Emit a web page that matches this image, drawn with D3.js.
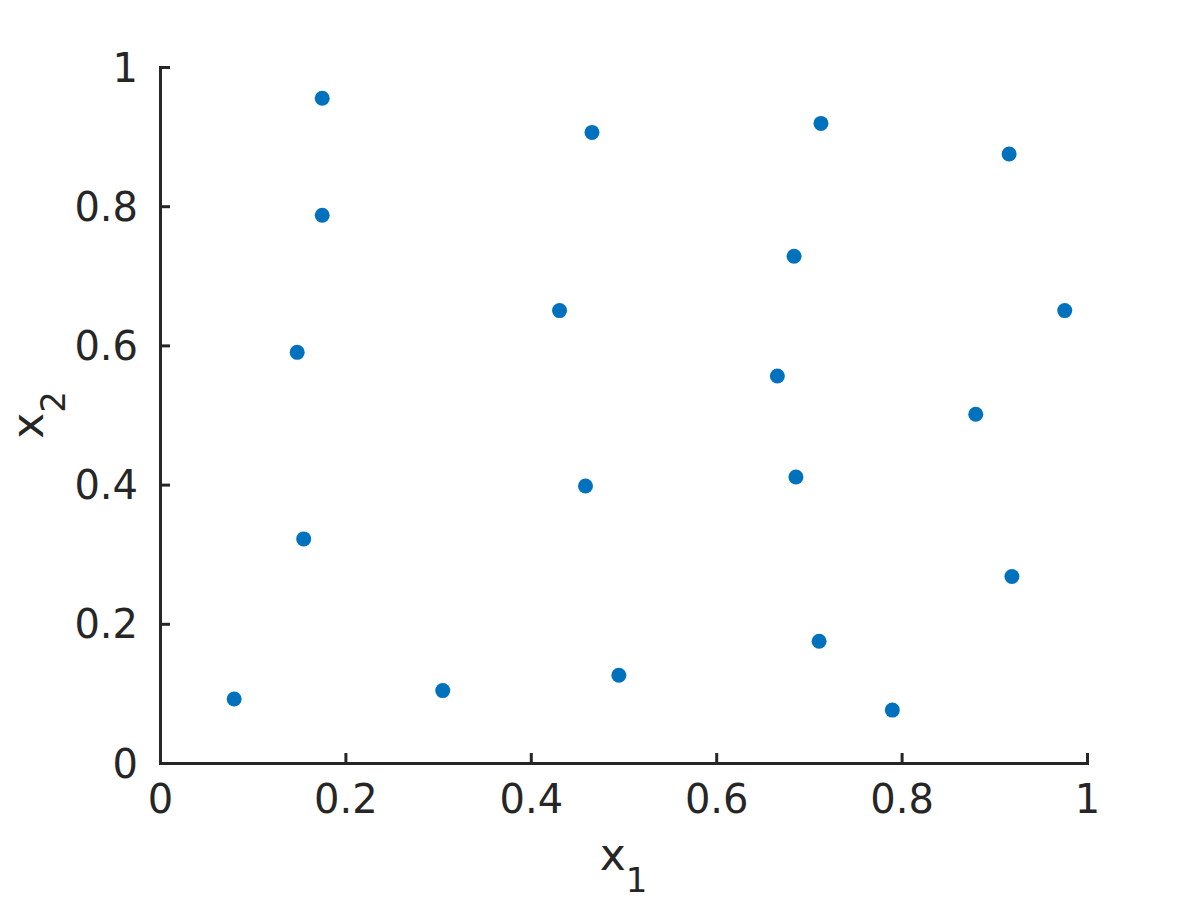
<!DOCTYPE html>
<html>
<head>
<meta charset="utf-8">
<script src="https://cdn.jsdelivr.net/npm/d3@7"></script>
<style>
  body { margin: 0; background: #fff; }
  text { font-family: "DejaVu Sans", sans-serif; fill: #262626; }
</style>
</head>
<body>
<div id="chart"></div>
<script>
// data
const x1 = [0.175, 0.466, 0.713, 0.916, 0.175, 0.684, 0.431, 0.976, 0.148, 0.666,
            0.880, 0.459, 0.686, 0.155, 0.919, 0.711, 0.495, 0.305, 0.080, 0.790];
const x2 = [0.955, 0.906, 0.919, 0.875, 0.787, 0.728, 0.650, 0.650, 0.590, 0.556,
            0.501, 0.398, 0.411, 0.322, 0.268, 0.175, 0.126, 0.104, 0.092, 0.076];
const xTicks = [0, 0.2, 0.4, 0.6, 0.8, 1];
const yTicks = [0, 0.2, 0.4, 0.6, 0.8, 1];

const W = 1200, H = 900;
const plotL = 160, plotR = 1087, plotT = 67, plotB = 763;
const fontSize = 40;

const svg = d3.select('#chart').append('svg')
    .attr('width', W).attr('height', H);

const x = d3.scaleLinear().domain([0, 1]).range([plotL, plotR]);
const y = d3.scaleLinear().domain([0, 1]).range([plotB, plotT]);

// points
svg.append('g').selectAll('circle')
    .data(x1.map((d, i) => [d, x2[i]]))
    .join('circle')
    .attr('cx', d => x(d[0]))
    .attr('cy', d => y(d[1]))
    .attr('r', 7.5)
    .attr('fill', '#0072BD');

// axes, ticks point inward
const xAxis = d3.axisBottom(x).tickValues(xTicks).tickSizeInner(-10).tickSizeOuter(-10)
    .tickPadding(22).tickFormat(d3.format('~g'));
const yAxis = d3.axisLeft(y).tickValues(yTicks).tickSizeInner(-10).tickSizeOuter(-10)
    .tickPadding(22).tickFormat(d3.format('~g'));

const gx = svg.append('g').attr('transform', `translate(0,${plotB})`).call(xAxis);
const gy = svg.append('g').attr('transform', `translate(${plotL},0)`).call(yAxis);

[gx, gy].forEach(g => {
    g.selectAll('path, line').attr('stroke', '#262626').attr('stroke-width', 3);
    g.selectAll('text').attr('font-size', fontSize).attr('fill', '#262626')
        .attr('font-family', '"DejaVu Sans", sans-serif');
});
gx.selectAll('text').attr('dy', '0.71em');
gy.selectAll('text').attr('dy', '0.35em');

// axis titles
const xl = svg.append('text')
    .attr('x', x(0.5)).attr('y', 870)
    .attr('text-anchor', 'middle')
    .attr('font-size', 44);
xl.append('tspan').text('x');
xl.append('tspan').attr('font-size', 34).attr('dy', 22).text('1');

const yl = svg.append('text')
    .attr('transform', `translate(43,${y(0.5)}) rotate(-90)`)
    .attr('text-anchor', 'middle')
    .attr('font-size', 44);
yl.append('tspan').text('x');
yl.append('tspan').attr('font-size', 34).attr('dy', 22).text('2');
</script>
</body>
</html>
